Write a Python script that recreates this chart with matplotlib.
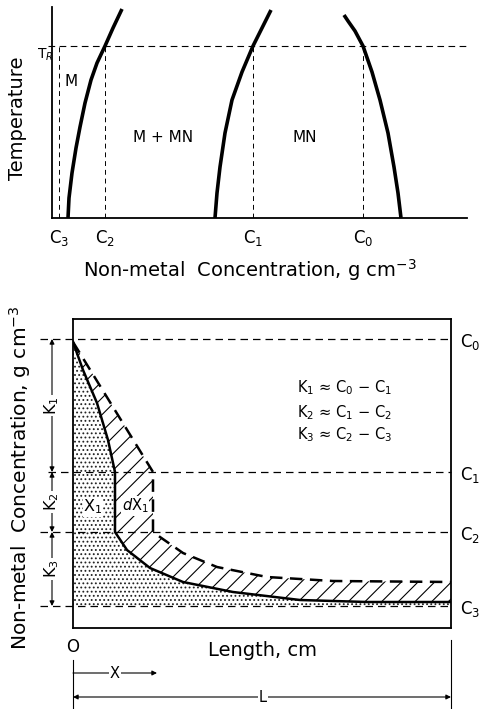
import matplotlib.pyplot as plt

plt.rcParams['font.family'] = 'DejaVu Sans'
plt.rcParams['hatch.linewidth'] = 0.8

# top: phase diagram (arbitrary concentration / temperature units)
conc_labels = ["C$_3$", "C$_2$", "C$_1$", "C$_0$"]
conc_top = [7, 53, 201, 311]
t_r = 172
left_x = [16, 17, 20, 24, 28, 33, 39, 45, 53, 61, 70]
left_t = [0, 20, 45, 70, 91, 115, 138, 155, 172, 190, 209]
mid_x = [163, 165, 168, 173, 180, 190, 201, 210, 219]
mid_t = [0, 25, 51, 85, 118, 146, 172, 190, 208]
right_x = [349, 346, 342, 336, 328, 320, 311, 303, 296, 292]
right_t = [0, 25, 51, 85, 118, 146, 172, 187, 197, 203]

# bottom: concentration profile along the length
levels = [289, 156, 96, 22]  # C0, C1, C2, C3
k_labels = ["K$_1$", "K$_2$", "K$_3$"]
solid_x = [0, 10, 24, 35, 42, 42, 54, 77, 110, 160, 227, 294, 378]
solid_y = [286, 258, 225, 188, 156, 96, 78, 60, 46, 36, 28, 26, 26]
dash_x = [0, 80, 80, 87, 110, 144, 194, 260, 378]
dash_y = [286, 156, 96, 91, 75, 61, 51, 47, 46]
length_L = 378
x_mark = 84

fig = plt.figure(figsize=(4.81, 7.09), dpi=100)
W, H = 481, 709

# ---------- top panel ----------
ax1 = fig.add_axes([52 / W, 1 - 218 / H, 415 / W, 211 / H])
ax1.set_xlim(0, 415)
ax1.set_ylim(0, 211)
for s in ['top', 'right']:
    ax1.spines[s].set_visible(False)
for s in ['left', 'bottom']:
    ax1.spines[s].set_linewidth(1.3)
ax1.set_xticks([])
ax1.set_yticks([])

ax1.plot([-4, 415], [t_r, t_r], color='black', lw=0.8, dashes=(6, 4), clip_on=False)
for c in conc_top:
    ax1.plot([c, c], [0, t_r], color='black', lw=0.7, dashes=(5, 4))
for xs, ts in [(left_x, left_t), (mid_x, mid_t), (right_x, right_t)]:
    ax1.plot(xs, ts, color='black', lw=2.6, solid_capstyle='butt',
             solid_joinstyle='round')

for c, lab in zip(conc_top, conc_labels):
    ax1.text(c, -20, lab, ha='center', va='center', fontsize=12)
ax1.text(-7, 163, "T$_R$", ha='center', va='center', fontsize=10, clip_on=False)
ax1.text(19, 136, "M", ha='center', va='center', fontsize=11)
ax1.text(111, 81, "M + MN", ha='center', va='center', fontsize=11)
ax1.text(253, 81, "MN", ha='center', va='center', fontsize=11)
ax1.text(198, -52, "Non-metal  Concentration, g cm$^{-3}$",
         ha='center', va='center', fontsize=14)
fig.text(18 / W, 1 - 118 / H, "Temperature", rotation=90,
         ha='center', va='center', fontsize=14)

# ---------- bottom panel ----------
ax2 = fig.add_axes([73 / W, 81 / H, 378 / W, 309 / H])
ax2.set_xlim(0, length_L)
ax2.set_ylim(0, 309)
for s in ax2.spines.values():
    s.set_linewidth(1.3)
ax2.set_xticks([])
ax2.set_yticks([])

# stippled region under the solid profile
ax2.fill([0] + solid_x + [length_L], [levels[3]] + solid_y + [levels[3]],
         facecolor='none', edgecolor='#222222', hatch='....', lw=0)
# hatched region between the two profiles
ax2.fill(dash_x + solid_x[::-1], dash_y + solid_y[::-1],
         facecolor='none', edgecolor='black', hatch='//', lw=0)

starts = [-33, -25, -33, -33]
for lv, st in zip(levels, starts):
    ax2.plot([st, length_L], [lv, lv], color='black', lw=0.9, dashes=(6, 4), clip_on=False)

ax2.plot(solid_x, solid_y, color='black', lw=1.8)
ax2.plot(dash_x, dash_y, color='black', lw=1.8, dashes=(5, 3))

for i, lab in enumerate(conc_labels[::-1]):
    ax2.text(397, levels[i] - 3, lab, ha='center', va='center', fontsize=12,
             clip_on=False)

# dimension arrows K1..K3
for i, lab in enumerate(k_labels):
    top, bot = levels[i], levels[i + 1]
    ax2.annotate('', xy=(-21, top), xytext=(-21, bot), annotation_clip=False,
                 arrowprops=dict(arrowstyle='<|-|>', lw=0.8, color='black',
                                 mutation_scale=7, shrinkA=0, shrinkB=0))
    ax2.text(-21, (top + bot) / 2, lab, rotation=90, ha='center', va='center',
             fontsize=11.5, bbox=dict(facecolor='white', edgecolor='none', pad=1))

ax2.text(224, 240, "K$_1$ ≈ C$_0$ − C$_1$", ha='left', va='center', fontsize=10.5)
ax2.text(224, 215, "K$_2$ ≈ C$_1$ − C$_2$", ha='left', va='center', fontsize=10.5)
ax2.text(224, 193, "K$_3$ ≈ C$_2$ − C$_3$", ha='left', va='center', fontsize=10.5)
ax2.text(20, 121, "X$_1$", ha='center', va='center', fontsize=11.5,
         bbox=dict(facecolor='white', edgecolor='none', pad=0.3))
ax2.text(62, 122, "$d$X$_1$", ha='center', va='center', fontsize=10.5,
         bbox=dict(facecolor='white', edgecolor='none', pad=0.3))

# length axis annotations
ax2.text(0, -19, "O", ha='center', va='center', fontsize=12, clip_on=False)
ax2.text(190, -22, "Length, cm", ha='center', va='center', fontsize=14)
ax2.plot([0, 0], [-32, -81], color='black', lw=0.8, clip_on=False)
ax2.plot([length_L, length_L], [-12, -81], color='black', lw=0.8, clip_on=False)
ax2.annotate('', xy=(x_mark, -45), xytext=(0, -45), annotation_clip=False,
             arrowprops=dict(arrowstyle='-|>', lw=0.8, color='black',
                             mutation_scale=7, shrinkA=0, shrinkB=0))
ax2.text(x_mark / 2, -45, "X", ha='center', va='center', fontsize=10.5,
         bbox=dict(facecolor='white', edgecolor='none', pad=1))
ax2.annotate('', xy=(length_L, -69), xytext=(0, -69), annotation_clip=False,
             arrowprops=dict(arrowstyle='<|-|>', lw=0.8, color='black',
                             mutation_scale=7, shrinkA=0, shrinkB=0))
ax2.text(190, -69, "L", ha='center', va='center', fontsize=10.5,
         bbox=dict(facecolor='white', edgecolor='none', pad=1))

fig.text(20 / W, 1 - 478 / H, "Non-metal  Concentration, g cm$^{-3}$",
         rotation=90, ha='center', va='center', fontsize=14.5)

fig.savefig('out.png', dpi=100)
